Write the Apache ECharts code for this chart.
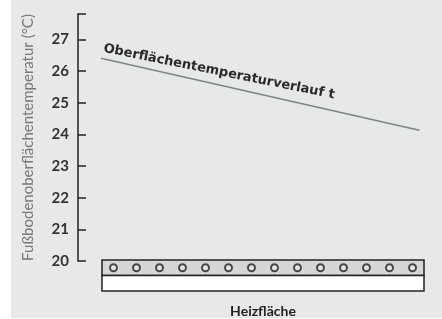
<!DOCTYPE html>
<html><head><meta charset="utf-8">
<script src="https://cdn.jsdelivr.net/npm/echarts@6/dist/echarts.min.js"></script>
<style>html,body{margin:0;padding:0;background:#fff}#c{width:442px;height:319px}</style>
</head><body><div id="c"></div>
<script>
// Data
const yTicks = [20, 21, 22, 23, 24, 25, 26, 27];
const lineX = [1.0, 14.8];
const lineY = [26.4, 24.13];
const lineLabel = 'Oberflächentemperaturverlauf t';
const yAxisName = 'Fußbodenoberflächentemperatur (°C)';
const panelName = 'Heizfläche';
const pipeX = [0.5, 1.5, 2.5, 3.5, 4.5, 5.5, 6.5, 7.5, 8.5, 9.5, 10.5, 11.5, 12.5, 13.5];
const pipeY = [1.5, 1.5, 1.5, 1.5, 1.5, 1.5, 1.5, 1.5, 1.5, 1.5, 1.5, 1.5, 1.5, 1.5];
const layers = [[0, 14, 1, 2], [0, 14, 0, 1]];

const chart = echarts.init(document.getElementById('c'), null, {renderer: 'canvas'});
const dark = '#222';
chart.setOption({
  backgroundColor: '#fff',
  animation: false,
  graphic: [
    {type: 'rect', left: 11, top: 0, z: -10, shape: {width: 431, height: 318}, style: {fill: '#e7e8e9'}, silent: true},
    {type: 'text', x: 105, y: 42, rotation: -0.2, z: 10,
     style: {text: lineLabel, font: 'bold 13px "DejaVu Sans"', fill: '#2a2a2a', textVerticalAlign: 'top'}}
  ],
  grid: [
    {left: 78, top: 14, width: 346, height: 247},
    {left: 102, top: 260, width: 322, height: 40}
  ],
  xAxis: [
    {gridIndex: 0, type: 'value', min: 0, max: 15, show: false},
    {gridIndex: 1, type: 'value', min: 0, max: 14, name: panelName, nameLocation: 'middle', nameGap: 13,
     nameTextStyle: {fontFamily: 'Lato', fontWeight: 'bold', fontSize: 14, color: dark},
     axisLine: {show: false}, axisTick: {show: false}, axisLabel: {show: false}, splitLine: {show: false}}
  ],
  yAxis: [
    {gridIndex: 0, type: 'value', min: 20, max: 27.8, interval: 1,
     name: yAxisName, nameLocation: 'middle', nameGap: 42,
     nameTextStyle: {fontFamily: 'Lato', fontSize: 15, color: '#777'},
     axisLine: {show: true, lineStyle: {color: dark, width: 1.5}},
     axisTick: {show: true, inside: true, length: 8, lineStyle: {color: dark, width: 1.5}},
     axisLabel: {margin: 9, fontFamily: 'Lato', fontWeight: 'bold', fontSize: 15, color: '#333',
       formatter: v => yTicks.includes(v) ? String(v) : ''},
     splitLine: {show: false}},
    {gridIndex: 1, type: 'value', min: 0, max: 2, show: false}
  ],
  series: [
    {type: 'line', xAxisIndex: 0, yAxisIndex: 0, data: lineX.map((x, i) => [x, lineY[i]]),
     symbol: 'none', lineStyle: {color: '#7d8585', width: 1.5}},
    {type: 'custom', xAxisIndex: 1, yAxisIndex: 1, data: layers,
     renderItem: (params, api) => {
       const p0 = api.coord([api.value(0), api.value(3)]);
       const p1 = api.coord([api.value(1), api.value(2)]);
       return {type: 'rect', shape: {x: p0[0], y: p0[1], width: p1[0] - p0[0], height: p1[1] - p0[1]},
         style: {fill: params.dataIndex === 0 ? '#d4d6d8' : '#ffffff', stroke: dark, lineWidth: 1.5}};
     }},
    {type: 'scatter', xAxisIndex: 1, yAxisIndex: 1, data: pipeX.map((x, i) => [x, pipeY[i]]),
     symbol: 'circle', symbolSize: 7, z: 5,
     itemStyle: {color: '#e4e5e6', borderColor: dark, borderWidth: 2}}
  ]
});
</script></body></html>
